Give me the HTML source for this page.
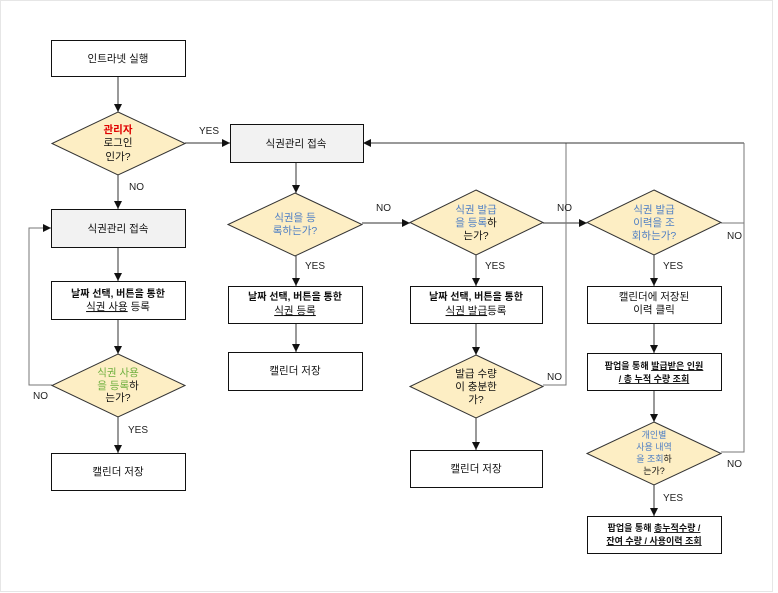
<!DOCTYPE html>
<html><head><meta charset="utf-8">
<style>
html,body{margin:0;padding:0;background:#fff;}
svg{display:block;font-family:"Liberation Sans","Noto Sans CJK KR",sans-serif;}
text{font-size:10.5px;fill:#111;}
.b{fill:#4f7fc4;} .g{fill:#70b040;} .r{fill:#e00000;font-weight:bold;}
.l{font-size:10px;fill:#222;}
.bd{font-weight:bold;font-size:10px;}
</style></head><body>
<svg width="778" height="593" viewBox="0 0 778 593" xmlns="http://www.w3.org/2000/svg">
<defs><marker id="a" viewBox="0 0 10 10" refX="10" refY="5" markerWidth="8" markerHeight="8" orient="auto" markerUnits="userSpaceOnUse"><path d="M0,0L10,5L0,10z" fill="#111"/></marker></defs>
<rect x="0.5" y="0.5" width="772" height="591" fill="none" stroke="#e6e6e6"/>
<g stroke="#333" stroke-width="1" fill="none">
<line x1="118" y1="76" x2="118" y2="112" marker-end="url(#a)"/>
<line x1="185" y1="143" x2="230" y2="143" marker-end="url(#a)"/>
<line x1="118" y1="175" x2="118" y2="209" marker-end="url(#a)"/>
<line x1="118" y1="247" x2="118" y2="281" marker-end="url(#a)"/>
<line x1="118" y1="319" x2="118" y2="354" marker-end="url(#a)"/>
<line x1="118" y1="417" x2="118" y2="453" marker-end="url(#a)"/>
<polyline points="52,385 29,385 29,228 51,228" marker-end="url(#a)" stroke="#777"/>
<line x1="296" y1="162" x2="296" y2="193" marker-end="url(#a)"/>
<line x1="296" y1="256" x2="296" y2="286" marker-end="url(#a)"/>
<line x1="296" y1="323" x2="296" y2="352" marker-end="url(#a)"/>
<line x1="362" y1="223" x2="410" y2="223" marker-end="url(#a)"/>
<line x1="476" y1="255" x2="476" y2="286" marker-end="url(#a)"/>
<line x1="476" y1="323" x2="476" y2="355" marker-end="url(#a)"/>
<line x1="476" y1="418" x2="476" y2="450" marker-end="url(#a)"/>
<line x1="543" y1="223" x2="587" y2="223" marker-end="url(#a)"/>
<polyline points="543,385 566,385 566,143" stroke="#777"/>
<line x1="744" y1="143" x2="363" y2="143" marker-end="url(#a)"/>
<polyline points="721,223 744,223 744,143" stroke="#777"/>
<polyline points="721,452 744,452 744,223" stroke="#777"/>
<line x1="654" y1="255" x2="654" y2="286" marker-end="url(#a)"/>
<line x1="654" y1="323" x2="654" y2="353" marker-end="url(#a)"/>
<line x1="654" y1="390" x2="654" y2="422" marker-end="url(#a)"/>
<line x1="654" y1="485" x2="654" y2="516" marker-end="url(#a)"/>
</g>
<g stroke="#111" stroke-width="1">
<rect x="51.5" y="40.5" width="134" height="36" fill="#fff"/>
<rect x="230.5" y="124.5" width="133" height="38" fill="#f2f2f2"/>
<rect x="51.5" y="209.5" width="134" height="38" fill="#f2f2f2"/>
<rect x="51.5" y="281.5" width="134" height="38" fill="#fff"/>
<rect x="51.5" y="453.5" width="134" height="37" fill="#fff"/>
<rect x="228.5" y="286.5" width="134" height="37" fill="#fff"/>
<rect x="228.5" y="352.5" width="134" height="38" fill="#fff"/>
<rect x="410.5" y="286.5" width="132" height="37" fill="#fff"/>
<rect x="410.5" y="450.5" width="132" height="37" fill="#fff"/>
<rect x="587.5" y="286.5" width="134" height="37" fill="#fff"/>
<rect x="587.5" y="353.5" width="134" height="37" fill="#fff"/>
<rect x="587.5" y="516.5" width="134" height="37" fill="#fff"/>
</g>
<g stroke="#333" stroke-width="1" fill="#fdeec4">
<polygon points="118,112 185,143.5 118,175 52,143.5"/>
<polygon points="118,354 185,385.5 118,417 52,385.5"/>
<polygon points="295,193 362,224.5 295,256 228,224.5"/>
<polygon points="476,190 543,222.5 476,255 410,222.5"/>
<polygon points="476,355 543,386.5 476,418 410,386.5"/>
<polygon points="654,190 721,222.5 654,255 587,222.5"/>
<polygon points="654,422 721,453.5 654,485 587,453.5"/>
</g>
<g text-anchor="middle">
<text x="118" y="62">인트라넷 실행</text>
<text x="118" y="133" class="r" style="font-size:10.5px">관리자</text>
<text x="118" y="146">로그인</text>
<text x="118" y="160">인가?</text>
<text x="296" y="147">식권관리 접속</text>
<text x="118" y="232">식권관리 접속</text>
<text x="118" y="297" class="bd">날짜 선택, 버튼을 통한</text>
<text x="118" y="310"><tspan text-decoration="underline">식권 사용</tspan> 등록</text>
<text x="118" y="376" class="g">식권 사용</text>
<text x="118" y="389"><tspan class="g">을 등록</tspan>하</text>
<text x="118" y="401">는가?</text>
<text x="118" y="475">캘린더 저장</text>
<text x="295" y="221" class="b">식권을 등</text>
<text x="295" y="234" class="b">록하는가?</text>
<text x="295" y="300" class="bd">날짜 선택, 버튼을 통한</text>
<text x="295" y="314" text-decoration="underline">식권 등록</text>
<text x="295" y="374">캘린더 저장</text>
<text x="476" y="213" class="b">식권 발급</text>
<text x="476" y="226"><tspan class="b">을 등록</tspan>하</text>
<text x="476" y="239">는가?</text>
<text x="476" y="300" class="bd">날짜 선택, 버튼을 통한</text>
<text x="476" y="314"><tspan text-decoration="underline">식권 발급</tspan>등록</text>
<text x="476" y="377">발급 수량</text>
<text x="476" y="390">이 충분한</text>
<text x="476" y="403">가?</text>
<text x="476" y="472">캘린더 저장</text>
<text x="654" y="213" class="b">식권 발급</text>
<text x="654" y="226" class="b">이력을 조</text>
<text x="654" y="239" class="b">회하는가?</text>
<text x="654" y="300">캘린더에 저장된</text>
<text x="654" y="313">이력 클릭</text>
<text x="654" y="369" style="font-size:9px;font-weight:bold">팝업을 통해 <tspan text-decoration="underline">발급받은 인원</tspan></text>
<text x="654" y="382" style="font-size:9px;font-weight:bold" text-decoration="underline">/ 총 누적 수량 조회</text>
<text x="654" y="438" class="b" style="font-size:9px">개인별</text>
<text x="654" y="450" class="b" style="font-size:9px">사용 내역</text>
<text x="654" y="462" style="font-size:9px"><tspan class="b">을 조회</tspan>하</text>
<text x="654" y="474" style="font-size:9px">는가?</text>
<text x="654" y="531" style="font-size:9px;font-weight:bold">팝업을 통해 <tspan text-decoration="underline">총누적수량 /</tspan></text>
<text x="654" y="544" style="font-size:9px;font-weight:bold" text-decoration="underline">잔여 수량 / 사용이력 조회</text>
</g>
<g class="l">
<text class="l" x="199" y="134">YES</text>
<text class="l" x="129" y="190">NO</text>
<text class="l" x="376" y="211">NO</text>
<text class="l" x="305" y="269">YES</text>
<text class="l" x="485" y="269">YES</text>
<text class="l" x="557" y="211">NO</text>
<text class="l" x="547" y="380">NO</text>
<text class="l" x="663" y="269">YES</text>
<text class="l" x="727" y="239">NO</text>
<text class="l" x="727" y="467">NO</text>
<text class="l" x="663" y="501">YES</text>
<text class="l" x="128" y="433">YES</text>
<text class="l" x="33" y="399">NO</text>
</g>
</svg>
</body></html>
